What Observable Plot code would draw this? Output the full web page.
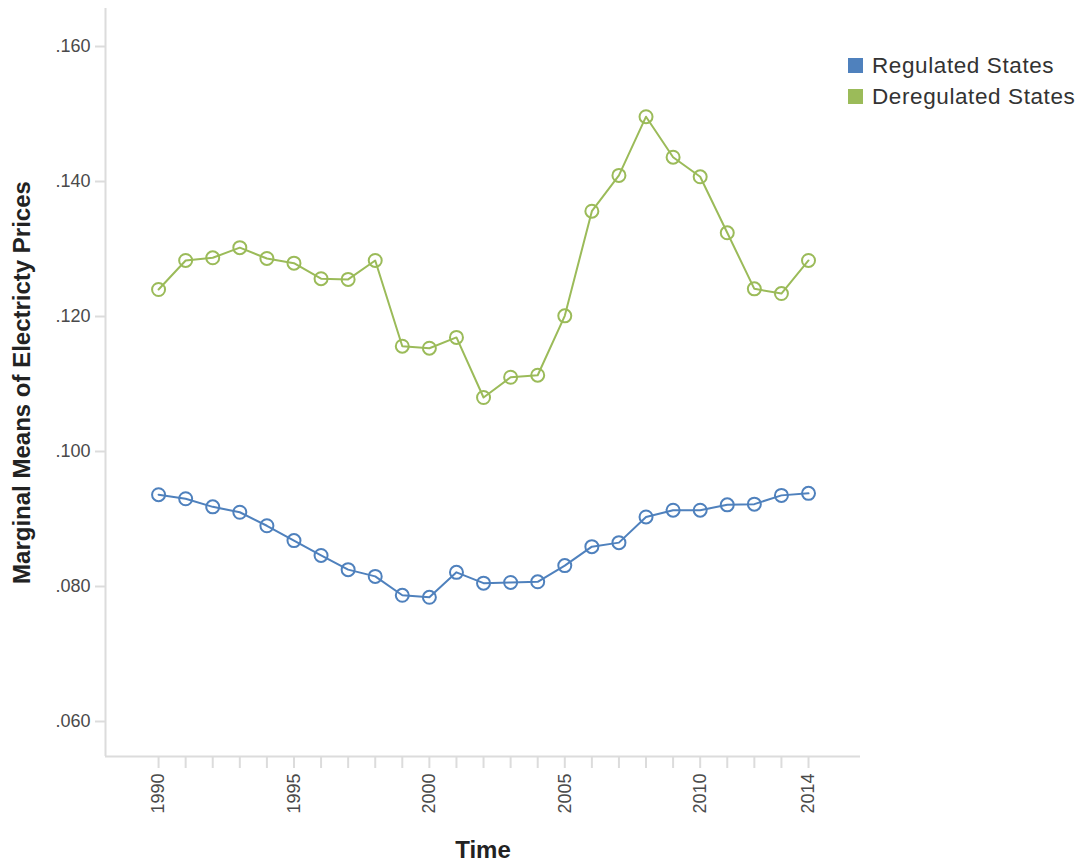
<!DOCTYPE html>
<html><head><meta charset="utf-8">
<script src="https://cdn.jsdelivr.net/npm/d3@7"></script>
<script src="https://cdn.jsdelivr.net/npm/@observablehq/plot@0.6"></script>
<style>
body{margin:0;background:#fff;font-family:"Liberation Sans",Arial,sans-serif;}
#wrap{position:relative;width:1087px;height:861px;}
#legend{position:absolute;left:848px;top:50px;font-size:22.5px;letter-spacing:0.6px;color:#333;}
.item{display:flex;align-items:center;height:31px;}
.sw{width:15px;height:15px;margin-right:9px;flex:none;}
</style></head><body><div id="wrap"><div id="legend"></div></div>
<script>
const years = [1990,1991,1992,1993,1994,1995,1996,1997,1998,1999,2000,2001,2002,2003,2004,2005,2006,2007,2008,2009,2010,2011,2012,2013,2014];
const regulated = [0.0936,0.0930,0.0918,0.0910,0.0890,0.0868,0.0846,0.0825,0.0815,0.0787,0.0784,0.0821,0.0805,0.0806,0.0807,0.0831,0.0859,0.0865,0.0903,0.0913,0.0913,0.0921,0.0922,0.0935,0.0938];
const deregulated = [0.1240,0.1283,0.1287,0.1302,0.1286,0.1279,0.1256,0.1255,0.1283,0.1156,0.1153,0.1169,0.1080,0.1110,0.1113,0.1201,0.1356,0.1409,0.1496,0.1436,0.1407,0.1324,0.1241,0.1234,0.1283];
const seriesNames = ["Regulated States","Deregulated States"];
const seriesColors = ["#4F81BD","#9BBB59"];
const labeledYears = [1990,1995,2000,2005,2010,2014];
const yTicks = [0.06,0.08,0.10,0.12,0.14,0.16];

const data = [];
years.forEach((yr,i)=>{
  data.push({year:yr, value:regulated[i], series:seriesNames[0]});
  data.push({year:yr, value:deregulated[i], series:seriesNames[1]});
});

const xDomain = [1988.04, 2015.92];
const yDomain = [0.054815, 0.16563];
const axisColor = "#dcdcdc";

const chart = Plot.plot({
  width: 1087,
  height: 861,
  marginLeft: 105,
  marginRight: 227,
  marginTop: 8,
  marginBottom: 105,
  style: {fontFamily: '"Liberation Sans", Arial, sans-serif', background: "#fff"},
  x: {domain: xDomain},
  y: {domain: yDomain},
  color: {domain: seriesNames, range: seriesColors},
  marks: [
    Plot.ruleX([xDomain[0]], {stroke: axisColor, strokeWidth: 2}),
    Plot.ruleY([yDomain[0]], {stroke: axisColor, strokeWidth: 2}),
    Plot.axisY({ticks: yTicks, tickSize: 10, tickPadding: 5, stroke: axisColor, strokeWidth: 2, strokeOpacity: 1,
      fill: "#4a4a4a", fontSize: 18,
      tickFormat: d => d3.format(".3f")(d).replace(/^0/, ""),
      label: "Marginal Means of Electricty Prices", labelAnchor: "center", labelArrow: "none", labelOffset: 93}),
    Plot.axisX({ticks: years, tickSize: 12, tickPadding: 5, tickRotate: -90, stroke: axisColor, strokeWidth: 2, strokeOpacity: 1,
      fill: "#4a4a4a", fontSize: 18,
      tickFormat: d => labeledYears.includes(d) ? String(d) : "",
      label: "Time", labelAnchor: "center", labelArrow: "none", labelOffset: 101}),
    Plot.line(data, {x: "year", y: "value", stroke: "series", z: "series", strokeWidth: 2}),
    Plot.dot(data, {x: "year", y: "value", stroke: "series", r: 6.5, strokeWidth: 2, fill: "none"})
  ]
});

d3.select(chart).selectAll("[aria-label='y-axis tick label'], [aria-label='x-axis tick label']")
  .attr("font-size", 18);
d3.select(chart).selectAll("[aria-label='y-axis label'] text, [aria-label='x-axis label'] text, [aria-label='y-axis label'], [aria-label='x-axis label']")
  .attr("font-size", 24).attr("font-weight", "bold").attr("fill", "#222");

document.getElementById("wrap").prepend(chart);

const legend = document.getElementById("legend");
seriesNames.forEach((name,i)=>{
  const it = document.createElement("div"); it.className = "item";
  const sw = document.createElement("div"); sw.className = "sw"; sw.style.background = seriesColors[i];
  const tx = document.createElement("span"); tx.textContent = name;
  it.appendChild(sw); it.appendChild(tx); legend.appendChild(it);
});
</script></body></html>
